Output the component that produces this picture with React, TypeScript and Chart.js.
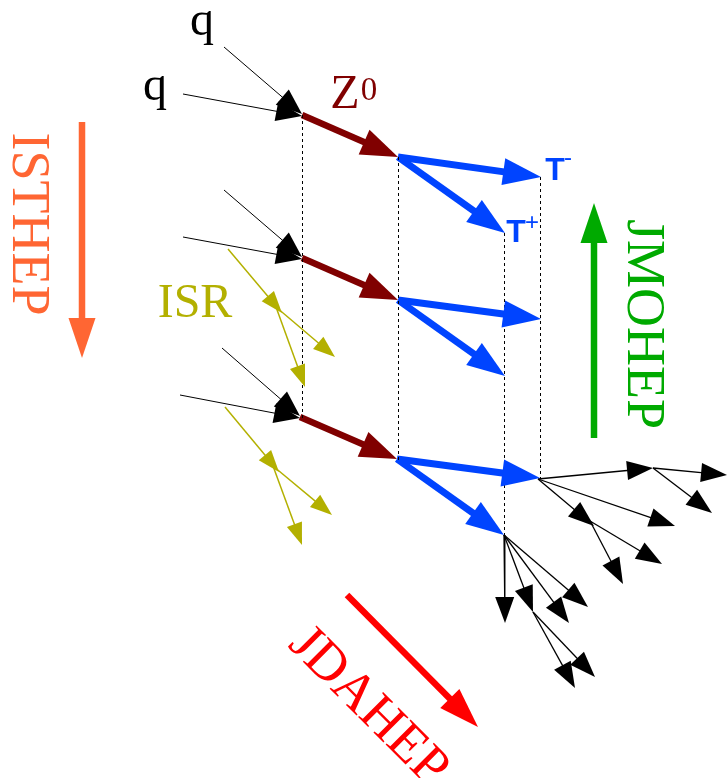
import { useEffect, useRef } from "react";
import { Chart, registerables, Plugin } from "chart.js";

Chart.register(...registerables);

type Seg = [number, number, number, number]; // x1, y1, x2 (tip), y2 (tip)

// incoming quark pairs, one per event
const QUARK_LINES: Seg[] = [
  [224, 47, 302, 114],
  [183, 94, 302, 116],
  [224, 190, 302, 257],
  [183, 237, 302, 259],
  [222, 348, 300, 416],
  [180, 395, 300, 418],
];
// Z0 propagators
const Z_LINES: Seg[] = [
  [302, 115, 398, 157],
  [302, 258, 398, 300],
  [300, 417, 397, 459],
];
// tau pairs
const TAU_LINES: Seg[] = [
  [398, 157, 541, 177],
  [398, 157, 505, 233],
  [398, 300, 541, 319],
  [398, 300, 505, 376],
  [397, 459, 540, 478],
  [397, 459, 504, 535],
];
// initial state radiation
const ISR_LINES: Seg[] = [
  [228, 249, 282, 313],
  [276, 307, 335, 357],
  [276, 307, 305, 387],
  [225, 407, 279, 472],
  [273, 466, 332, 515],
  [273, 466, 302, 545],
];
// tau decay products
const DECAY_LINES: Seg[] = [
  [538, 479, 653, 468],
  [653, 468, 727, 475],
  [653, 468, 712, 513],
  [538, 479, 675, 526],
  [538, 479, 594, 526],
  [590, 521, 662, 564],
  [590, 521, 623, 584],
  [504, 535, 505, 623],
  [504, 535, 533, 612],
  [533, 612, 575, 688],
  [533, 612, 595, 677],
  [504, 535, 569, 623],
  [504, 535, 588, 607],
];
// dashed verticals
const DASHED_X = [302.5, 398.5, 504.5, 540.5];
const DASHED_FROM = [115, 157, 233, 177];
const DASHED_TO = [421, 460, 535, 479];
// ISTHEP, JMOHEP, JDAHEP flow arrows
const FLOW_LINES: Seg[] = [
  [82, 122, 82, 358],
  [594, 438, 594, 203],
  [347, 595, 478, 727],
];

const BLACK = "#000000";
const ZRED = "#800000";
const BLUE = "#0044ff";
const OLIVE = "#b3b000";
const FLOW_COLORS = ["#ff6633", "#00aa00", "#ff0000"];

const SERIF = "'Liberation Serif', 'Times New Roman', serif";
const SANS = "'Liberation Sans', Arial, sans-serif";

type Label = { text: string; x: number; y: number; font: string; color: string; rot?: number };

const LABELS: Label[] = [
  { text: "q", x: 202, y: 35, font: `48px ${SERIF}`, color: BLACK },
  { text: "q", x: 155, y: 100, font: `48px ${SERIF}`, color: BLACK },
  { text: "Z", x: 345, y: 108, font: `48px ${SERIF}`, color: ZRED },
  { text: "0", x: 369, y: 100, font: `33px ${SERIF}`, color: ZRED },
  { text: "ISR", x: 195, y: 317, font: `48px ${SERIF}`, color: OLIVE },
  { text: "T", x: 555, y: 180, font: `bold 32px ${SANS}`, color: BLUE },
  { text: "-", x: 568, y: 165, font: `24px ${SANS}`, color: BLUE },
  { text: "T", x: 516, y: 242, font: `bold 32px ${SANS}`, color: BLUE },
  { text: "+", x: 532, y: 230, font: `24px ${SANS}`, color: BLUE },
  { text: "ISTHEP", x: 13, y: 224, font: `54px ${SERIF}`, color: FLOW_COLORS[0], rot: 90 },
  { text: "JMOHEP", x: 628, y: 324, font: `54px ${SERIF}`, color: FLOW_COLORS[1], rot: 90 },
  { text: "JDAHEP", x: 358, y: 717, font: `54px ${SERIF}`, color: FLOW_COLORS[2], rot: 45 },
];

type Head = { len: number; width: number };

const arrowDataset = (seg: Seg, color: string, lineWidth: number, head: Head | null, dash: number[] = []) => {
  const [x1, y1, x2, y2] = seg;
  let ex = x2;
  let ey = y2;
  if (head) {
    // stop the shaft inside the head so it doesn't poke out at the tip
    const d = Math.hypot(x2 - x1, y2 - y1);
    const k = (head.len * 0.6) / d;
    ex = x2 - (x2 - x1) * k;
    ey = y2 - (y2 - y1) * k;
  }
  return {
    data: [
      { x: x1, y: y1 },
      { x: ex, y: ey },
    ],
    showLine: true,
    borderColor: color,
    backgroundColor: color,
    borderWidth: lineWidth,
    borderDash: dash,
    borderCapStyle: "butt",
    pointRadius: 0,
    clip: false,
    start: { x: x1, y: y1 },
    tip: head ? { x: x2, y: y2 } : null,
    head,
  };
};

const arrowHeads: Plugin = {
  id: "arrowHeads",
  afterDatasetsDraw(chart) {
    const { ctx } = chart;
    const sx = chart.scales.x;
    const sy = chart.scales.y;
    chart.data.datasets.forEach((ds: any) => {
      if (!ds.head) return;
      const x0 = sx.getPixelForValue(ds.start.x);
      const y0 = sy.getPixelForValue(ds.start.y);
      const tx = sx.getPixelForValue(ds.tip.x);
      const ty = sy.getPixelForValue(ds.tip.y);
      const a = Math.atan2(ty - y0, tx - x0);
      const { len, width } = ds.head;
      ctx.save();
      ctx.translate(tx, ty);
      ctx.rotate(a);
      ctx.beginPath();
      ctx.moveTo(0, 0);
      ctx.lineTo(-len, width / 2);
      ctx.lineTo(-len, -width / 2);
      ctx.closePath();
      ctx.fillStyle = ds.borderColor;
      ctx.fill();
      ctx.restore();
    });
  },
};

const textLabels: Plugin = {
  id: "textLabels",
  afterDraw(chart) {
    const { ctx } = chart;
    const sx = chart.scales.x;
    const sy = chart.scales.y;
    LABELS.forEach((l) => {
      ctx.save();
      ctx.translate(sx.getPixelForValue(l.x), sy.getPixelForValue(l.y));
      if (l.rot) ctx.rotate((l.rot * Math.PI) / 180);
      ctx.font = l.font;
      ctx.fillStyle = l.color;
      ctx.textAlign = "center";
      ctx.textBaseline = "alphabetic";
      ctx.fillText(l.text, 0, 0);
      ctx.restore();
    });
  },
};

export default function App() {
  const canvasRef = useRef<HTMLCanvasElement>(null);

  useEffect(() => {
    if (!canvasRef.current) return;
    const ctx = canvasRef.current.getContext("2d");
    if (!ctx) return;

    const datasets: any[] = [
      ...DASHED_X.map((x, i) =>
        arrowDataset([x, DASHED_FROM[i], x, DASHED_TO[i]], BLACK, 1, null, [3, 3])
      ),
      ...QUARK_LINES.map((s) => arrowDataset(s, BLACK, 1, { len: 26, width: 20 })),
      ...ISR_LINES.map((s) => arrowDataset(s, OLIVE, 1.5, { len: 22, width: 16 })),
      ...DECAY_LINES.map((s) => arrowDataset(s, BLACK, 1.3, { len: 26, width: 19 })),
      ...Z_LINES.map((s) => arrowDataset(s, ZRED, 6.5, { len: 37, width: 27 })),
      ...TAU_LINES.map((s) => arrowDataset(s, BLUE, 7, { len: 38, width: 27 })),
      ...FLOW_LINES.map((s, i) => arrowDataset(s, FLOW_COLORS[i], 6.5, { len: 40, width: 27 })),
    ];

    const chart = new Chart(ctx, {
      type: "scatter",
      data: { datasets },
      options: {
        animation: false,
        responsive: true,
        maintainAspectRatio: false,
        events: [],
        layout: { padding: 0 },
        plugins: {
          legend: { display: false },
          tooltip: { enabled: false },
        },
        scales: {
          x: { type: "linear", min: 0, max: 728, display: false },
          y: { type: "linear", min: 0, max: 778, reverse: true, display: false },
        },
      },
      plugins: [arrowHeads, textLabels],
    });

    return () => {
      chart.destroy();
    };
  }, []);

  return (
    <div style={{ position: "fixed", left: 0, top: 0, width: 728, height: 778, background: "#fff" }}>
      <canvas ref={canvasRef} />
    </div>
  );
}
